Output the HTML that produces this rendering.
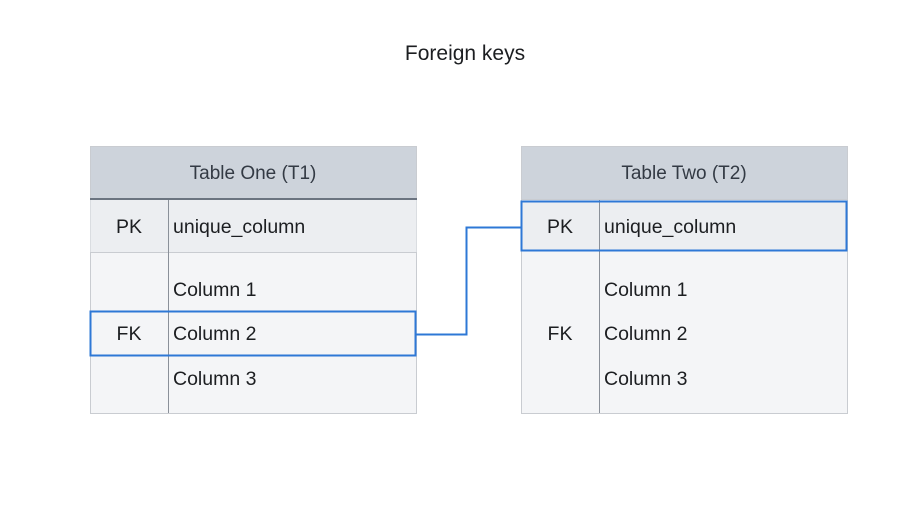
<!DOCTYPE html>
<html><head><meta charset="utf-8"><style>
html,body{margin:0;padding:0;background:#fff;}
svg{display:block;font-family:"Liberation Sans",sans-serif;}
</style></head><body>
<svg width="919" height="505" viewBox="0 0 919 505" xmlns="http://www.w3.org/2000/svg">
<rect width="919" height="505" fill="#fff"/>
<text x="465" y="60" text-anchor="middle" font-size="21" fill="#1c1e21">Foreign keys</text>

<!-- Table 1 -->
<rect x="90.5" y="146.5" width="326" height="267" fill="#f4f5f7" stroke="#c9ccd1"/>
<rect x="90.5" y="146.5" width="326" height="53" fill="#cdd3db" stroke="#c9ccd1"/>
<line x1="90" y1="199" x2="417" y2="199" stroke="#6b7480" stroke-width="2"/>
<rect x="90.5" y="200" width="326" height="52" fill="#eceef1"/>
<line x1="90" y1="252.5" x2="417" y2="252.5" stroke="#c9ccd1"/>
<line x1="168.5" y1="200" x2="168.5" y2="413" stroke="#8a9099"/>
<text x="253" y="179" text-anchor="middle" font-size="19" fill="#333a44">Table One (T1)</text>
<text x="129" y="233" text-anchor="middle" font-size="19.5" fill="#1c1e21">PK</text>
<text x="173" y="233" font-size="19.5" fill="#1c1e21">unique_column</text>
<text x="173" y="296" font-size="19.5" fill="#1c1e21">Column 1</text>
<text x="129" y="340" text-anchor="middle" font-size="19.5" fill="#1c1e21">FK</text>
<text x="173" y="340" font-size="19.5" fill="#1c1e21">Column 2</text>
<text x="173" y="385" font-size="19.5" fill="#1c1e21">Column 3</text>
<rect x="90.5" y="311.5" width="325" height="44" fill="none" stroke="#2e78d6" stroke-width="2"/>

<!-- connector -->
<polyline points="416,334.5 466.5,334.5 466.5,227.5 521,227.5" fill="none" stroke="#2e78d6" stroke-width="2"/>

<!-- Table 2 -->
<rect x="521.5" y="146.5" width="326" height="267" fill="#f4f5f7" stroke="#c9ccd1"/>
<rect x="521.5" y="146.5" width="326" height="53" fill="#cdd3db" stroke="#c9ccd1"/>
<rect x="521.5" y="201" width="326" height="50" fill="#eceef1"/>
<line x1="599.5" y1="200" x2="599.5" y2="413" stroke="#8a9099"/>
<rect x="521.5" y="201.5" width="325" height="49" fill="none" stroke="#2e78d6" stroke-width="2"/>
<text x="684" y="179" text-anchor="middle" font-size="19" fill="#333a44">Table Two (T2)</text>
<text x="560" y="233" text-anchor="middle" font-size="19.5" fill="#1c1e21">PK</text>
<text x="604" y="233" font-size="19.5" fill="#1c1e21">unique_column</text>
<text x="604" y="296" font-size="19.5" fill="#1c1e21">Column 1</text>
<text x="560" y="340" text-anchor="middle" font-size="19.5" fill="#1c1e21">FK</text>
<text x="604" y="340" font-size="19.5" fill="#1c1e21">Column 2</text>
<text x="604" y="385" font-size="19.5" fill="#1c1e21">Column 3</text>
</svg>
</body></html>
